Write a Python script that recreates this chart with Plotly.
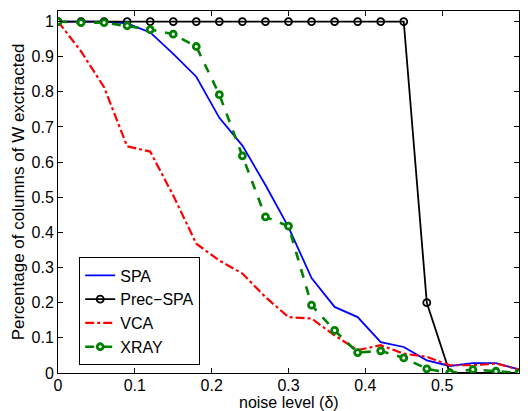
import plotly.graph_objects as go

noise = [0, 0.03, 0.06, 0.09, 0.12, 0.15, 0.18, 0.21, 0.24, 0.27, 0.30,
         0.33, 0.36, 0.39, 0.42, 0.45, 0.48, 0.51, 0.54, 0.57, 0.60]
spa = [1, 1, 1, 0.995, 0.969, 0.908, 0.843, 0.726, 0.647, 0.535, 0.415,
       0.270, 0.188, 0.159, 0.088, 0.074, 0.036, 0.020, 0.028, 0.028, 0.010]
prec_spa = [1, 1, 1, 1, 1, 1, 1, 1, 1, 1, 1,
            1, 1, 1, 1, 1, 0.200, 0.0, 0.0, 0.0, 0.0]
vca = [1, 0.915, 0.813, 0.645, 0.630, 0.505, 0.368, 0.320, 0.283, 0.216, 0.159,
       0.155, 0.107, 0.065, 0.079, 0.055, 0.046, 0.022, 0.022, 0.027, 0.010]
xray = [1, 0.997, 0.997, 0.988, 0.977, 0.964, 0.929, 0.792, 0.618, 0.444, 0.418,
        0.193, 0.121, 0.058, 0.063, 0.043, 0.012, 0.0, 0.010, 0.005, 0.0]

xticks = [0, 0.1, 0.2, 0.3, 0.4, 0.5, 0.6]
xticklabels = ["0", "0.1", "0.2", "0.3", "0.4", "0.5", "0.6"]
yticks = [0, 0.1, 0.2, 0.3, 0.4, 0.5, 0.6, 0.7, 0.8, 0.9, 1]
yticklabels = ["0", "0.1", "0.2", "0.3", "0.4", "0.5", "0.6", "0.7", "0.8", "0.9", "1"]
xtitle = "noise level (\u03b4)"
ytitle = "Percentage of columns of W exctracted"

FONT = "Liberation Sans, Arial"

fig = go.Figure()
fig.add_trace(go.Scatter(x=noise, y=spa, mode="lines", name="SPA",
                         line=dict(color="rgb(0,0,255)", width=1.8)))
fig.add_trace(go.Scatter(x=noise, y=prec_spa, mode="lines+markers", name="Prec\u2212SPA",
                         line=dict(color="black", width=1.8),
                         marker=dict(symbol="circle-open", size=7, color="black",
                                     line=dict(width=1.8, color="black"))))
fig.add_trace(go.Scatter(x=noise, y=vca, mode="lines", name="VCA",
                         line=dict(color="rgb(255,0,0)", width=2.2, dash="dashdot")))
fig.add_trace(go.Scatter(x=noise, y=xray, mode="lines+markers", name="XRAY",
                         line=dict(color="rgb(0,128,0)", width=2.6, dash="dash"),
                         marker=dict(symbol="circle", size=6, color="white",
                                     line=dict(width=2.8, color="rgb(0,128,0)"))))

axis_common = dict(showline=True, linecolor="black", linewidth=1, mirror="ticks",
                   ticks="inside", ticklen=5, tickcolor="black", showgrid=False,
                   zeroline=False, tickfont=dict(family=FONT, size=16, color="black"))

fig.update_xaxes(range=[0, 0.6], tickvals=xticks, ticktext=xticklabels,
                 ticklabelstandoff=-2, **axis_common)
fig.update_yaxes(range=[0, 1.03], tickvals=yticks, ticktext=yticklabels, **axis_common)

fig.add_annotation(text=xtitle, xref="paper", yref="paper", x=0.5, y=-0.081,
                   xanchor="center", yanchor="middle", showarrow=False,
                   font=dict(family=FONT, size=16, color="black"))
fig.add_annotation(text=ytitle, xref="paper", yref="paper", x=-0.086, y=0.5,
                   xanchor="center", yanchor="middle", showarrow=False, textangle=-90,
                   font=dict(family=FONT, size=17, color="black"))

# page body has an 8px default margin, so the figure is sized/offset to compensate
fig.update_layout(
    width=520, height=403,
    margin=dict(l=50, r=9, t=3, b=38),
    paper_bgcolor="white", plot_bgcolor="white",
    font=dict(family=FONT, color="black"),
    legend=dict(x=0.046, y=0.17, xanchor="left", yanchor="middle",
                bgcolor="white", bordercolor="black", borderwidth=1,
                font=dict(family=FONT, size=16, color="black"),
                tracegroupgap=0, itemwidth=30),
)

fig.write_html("out.html")
